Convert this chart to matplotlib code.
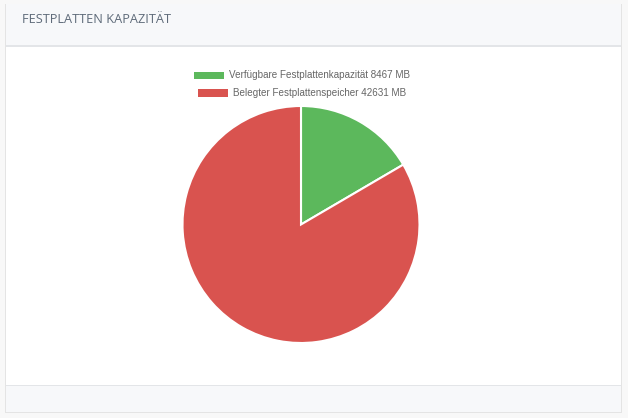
import matplotlib
matplotlib.use("Agg")
import matplotlib.pyplot as plt
from matplotlib.patches import Rectangle

# ---- data ----
labels = ["Verfügbare Festplattenkapazität", "Belegter Festplattenspeicher"]
values = [8467, 42631]
unit = "MB"
colors = ["#5cb85c", "#d9534f"]
title = "FESTPLATTEN KAPAZITÄT"

W, H = 628, 418
DPI = 100
fig = plt.figure(figsize=(W / DPI, H / DPI), dpi=DPI, facecolor="#f8f8f8")

def fx(px):
    return px / W

def fy(py):
    return 1 - py / H

def rect(x0, y0, x1, y1, fc, ec="none", lw=0, z=0):
    fig.patches.append(Rectangle((fx(x0), fy(y1)), fx(x1) - fx(x0), fy(y0) - fy(y1),
                                 transform=fig.transFigure, facecolor=fc, edgecolor=ec,
                                 linewidth=lw, zorder=z))

# card shadow / border
rect(5, 3.5, 622, 412.5, "#e4e4e4", z=0)
# header
rect(6, 4, 621, 46, "#f7f8fa", z=1)
# body
rect(6, 46.5, 621, 385, "#ffffff", z=1)
# footer
rect(6, 386, 621, 411.5, "#f7f8fa", z=1)
# separator lines
rect(6, 45.5, 621, 46.5, "#e3e5e8", z=2)
rect(6, 385, 621, 386, "#e3e5e8", z=2)

fig.text(fx(22), fy(19.5), title, fontsize=9.2, color="#5f6b7a",
         family="Open Sans", va="center", ha="left", zorder=5)

# pie
cx, cy, r = 301, 224.5, 118.5
ax = fig.add_axes([fx(cx - r), fy(cy + r), fx(2 * r), (2 * r) / H])
ax.set_zorder(10)
ax.patch.set_visible(False)
ax.pie(values, colors=colors, startangle=90, counterclock=False, radius=1,
       wedgeprops=dict(edgecolor="white", linewidth=1.5))
ax.set_xlim(-1.0, 1.0)
ax.set_ylim(-1.0, 1.0)
ax.set_aspect("equal")
ax.axis("off")

# legend (chart.js style, each row centred)
renderer = fig.canvas.get_renderer()
row_y = [75.5, 93]
box_w, box_h, gap = 30, 7, 5
for lab, val, col, yy in zip(labels, values, colors, row_y):
    t = fig.text(0, fy(yy), f"{lab} {val} {unit}", fontsize=7.1, color="#666666",
                 family="Liberation Sans", va="center", ha="left", zorder=5)
    tw = t.get_window_extent(renderer).width
    total = box_w + gap + tw
    x0 = cx + 1 - total / 2
    t.set_x(fx(x0 + box_w + gap))
    rect(x0, yy - box_h / 2, x0 + box_w, yy + box_h / 2, col, z=5)

fig.savefig("out.png", dpi=DPI, facecolor=fig.get_facecolor())
